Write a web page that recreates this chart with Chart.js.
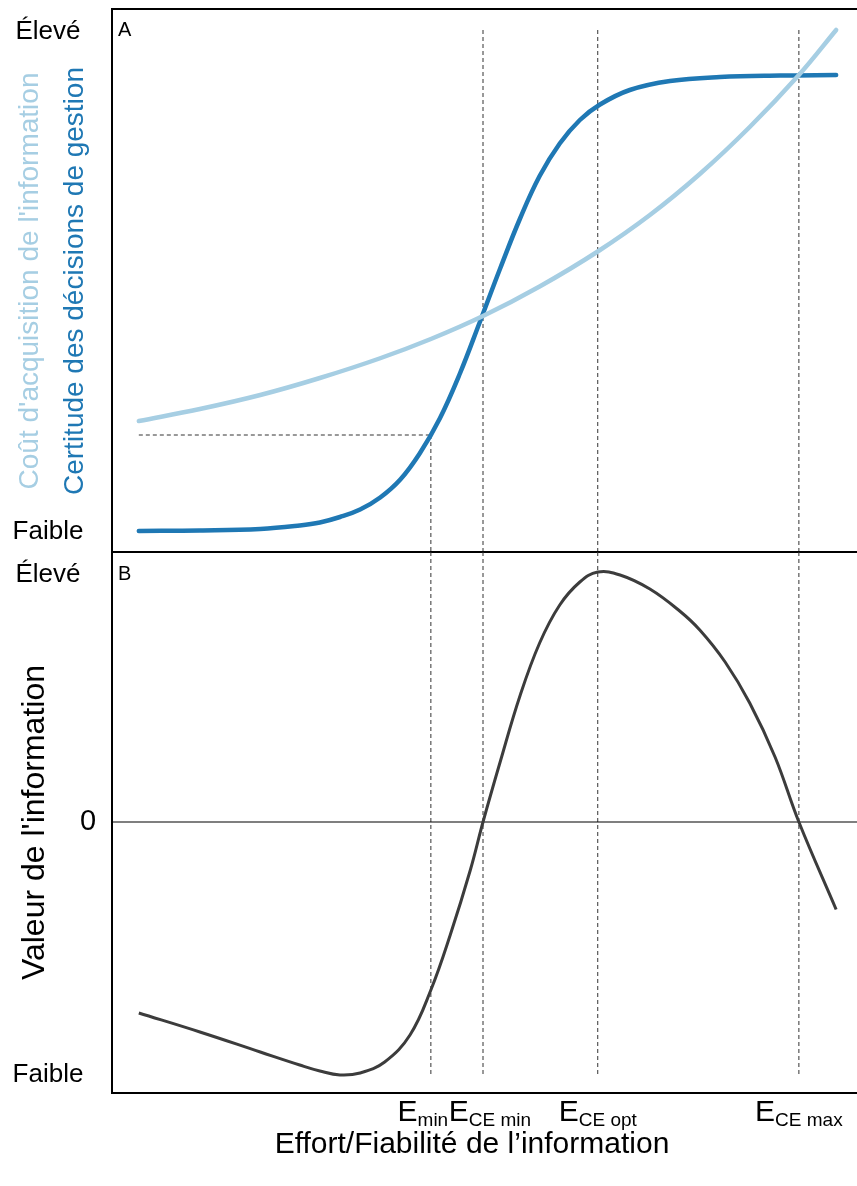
<!DOCTYPE html>
<html lang="fr">
<head>
<meta charset="utf-8">
<title>Valeur de l'information</title>
<script src="https://cdn.jsdelivr.net/npm/chart.js@4.4.0/dist/chart.umd.min.js"></script>
<style>
body { margin: 0; background: #fff; }
#wrap { position: relative; width: 857px; height: 1186px; }
canvas { position: absolute; left: 0; }
#chartA { top: 0; }
#chartB { top: 552px; }
</style>
</head>
<body>
<div id="wrap">
  <canvas id="chartA" width="857" height="553"></canvas>
  <canvas id="chartB" width="857" height="634"></canvas>
</div>
<script>
// effort axis goes 0 -> 100 in both panels

// panel A - certitude des decisions (dark blue)
var certitudeX = [3.6, 11.8, 19.9, 25.2, 27.9, 30.6, 33.3, 36, 38.7, 41.3, 44, 46.7, 49.4, 52.1, 54.8, 57.4, 60.1, 62.8, 65.5, 69.5, 74.9, 81.6, 89.7, 97.2];
var certitudeY = [0.2, 0.3, 0.6, 1.3, 1.9, 3, 4.5, 6.9, 10.5, 15.7, 22.7, 31.7, 42.1, 52.7, 62.8, 71.2, 77.7, 82.4, 85.5, 88.4, 90.2, 91, 91.3, 91.4];

// panel A - cout d'acquisition (light blue)
var coutX = [3.6, 11.8, 19.9, 27.9, 35.9, 42.8, 49.8, 57.4, 65.2, 72.2, 78.9, 85.6, 92.2, 97.2];
var coutY = [22.2, 24.6, 27.4, 30.8, 34.7, 38.6, 43.2, 49.1, 56.1, 63.4, 71.6, 81, 91.4, 100.4];

// panel B - valeur de l'information
var valeurX = [3.6, 11.8, 19.9, 25.2, 27.9, 30.6, 33.3, 36.6, 40, 42.8, 45.4, 48.1, 49.8, 52.1, 54.8, 57.4, 60.1, 62.8, 65.2, 68.2, 72.2, 76.2, 78.9, 82.3, 85.6, 89, 92.2, 97.2];
var valeurY = [-76.4, -84, -92, -97.2, -99.6, -101.2, -100.4, -96, -85.2, -67.2, -45.2, -19.2, 0, 24, 50.8, 71.6, 86.8, 96, 100, 98.8, 93.2, 84.4, 76.8, 64, 47.6, 26, 0, -35];

// the four effort thresholds
var seuils = [42.8, 49.8, 65.2, 92.2];
var seuilsSub = ['min', 'CE min', 'CE opt', 'CE max'];
var eMinNiveau = 19.4;   // certitude reached at E_min
var hautGuideA = 100.4;  // top of the dashed guides in A
var basGuideB = -101;

// tick labels
var ticksA = [100, 0];
var ticksALabels = ['Élevé', 'Faible'];
var ticksB = [99, 0, -101];
var ticksBLabels = ['Élevé', '0', 'Faible'];

var FONT = '"Liberation Sans", Arial, sans-serif';
var DARK = '#1f78b4', LIGHT = '#a6cee3';

function pts(xs, ys) {
    return xs.map(function(x, i) { return { x: x, y: ys[i] }; });
}

function guide(p) {
    return { data: p, borderColor: '#333', borderWidth: 1, borderDash: [4, 3], pointRadius: 0, fill: false };
}

function ligne(ctx, x1, y1, x2, y2) {
    ctx.save();
    ctx.strokeStyle = '#000';
    ctx.lineWidth = 2;
    ctx.beginPath();
    ctx.moveTo(x1, y1);
    ctx.lineTo(x2, y2);
    ctx.stroke();
    ctx.restore();
}

function vText(ctx, txt, x, y, font, color) {
    ctx.save();
    ctx.translate(x, y);
    ctx.rotate(-Math.PI / 2);
    ctx.font = font;
    ctx.fillStyle = color;
    ctx.textAlign = 'center';
    ctx.textBaseline = 'middle';
    ctx.fillText(txt, 0, 0);
    ctx.restore();
}

// ---------- panel A ----------
var dsA = [
    { data: pts(coutX, coutY), borderColor: LIGHT, borderWidth: 4.5, pointRadius: 0, tension: 0.4, borderCapStyle: 'round' },
    { data: pts(certitudeX, certitudeY), borderColor: DARK, borderWidth: 4.5, pointRadius: 0, tension: 0.4, borderCapStyle: 'round' },
    guide([{ x: certitudeX[0], y: eMinNiveau }, { x: seuils[0], y: eMinNiveau }]),
    guide([{ x: seuils[0], y: eMinNiveau }, { x: seuils[0], y: -4.2 }])
];
for (var i = 1; i < seuils.length; i++) {
    dsA.push(guide([{ x: seuils[i], y: hautGuideA }, { x: seuils[i], y: -4.2 }]));
}

new Chart(document.getElementById('chartA'), {
    type: 'line',
    data: { datasets: dsA },
    options: {
        responsive: false,
        animation: false,
        layout: { padding: { left: 112, top: 9, right: 0, bottom: 0 } },
        plugins: { legend: { display: false }, tooltip: { enabled: false } },
        scales: {
            x: { type: 'linear', min: 0, max: 100, display: false },
            y: { min: -4.2, max: 104.6, display: false }
        }
    },
    plugins: [{
        id: 'decoA',
        afterDraw: function(chart) {
            var ctx = chart.ctx, a = chart.chartArea, y = chart.scales.y;
            ligne(ctx, a.left, a.bottom, a.left, a.top);
            ligne(ctx, a.left - 1, a.top, a.right, a.top);
            ligne(ctx, a.left, 552, a.right, 552);   // divider with panel B
            ctx.save();
            ctx.fillStyle = '#000';
            ctx.textAlign = 'center';
            ctx.textBaseline = 'middle';
            ctx.font = '26px ' + FONT;
            for (var i = 0; i < ticksA.length; i++) {
                ctx.fillText(ticksALabels[i], 48, y.getPixelForValue(ticksA[i]));
            }
            ctx.textAlign = 'left';
            ctx.textBaseline = 'top';
            ctx.font = '20px ' + FONT;
            ctx.fillText('A', a.left + 6, a.top + 11);
            ctx.restore();
            var mid = (a.top + a.bottom) / 2;
            vText(ctx, "Coût d'acquisition de l'information", 30, mid, '28px ' + FONT, LIGHT);
            vText(ctx, 'Certitude des décisions de gestion', 75, mid, '28px ' + FONT, DARK);
        }
    }]
});

// ---------- panel B ----------
var dsB = [
    { data: pts(valeurX, valeurY), borderColor: '#3c3c3c', borderWidth: 3, pointRadius: 0, tension: 0.4 },
    { data: [{ x: 0, y: 0 }, { x: 100, y: 0 }], borderColor: '#000', borderWidth: 1.2, pointRadius: 0 }
];
for (var j = 0; j < seuils.length; j++) {
    dsB.push(guide([{ x: seuils[j], y: 108 }, { x: seuils[j], y: basGuideB }]));
}

new Chart(document.getElementById('chartB'), {
    type: 'line',
    data: { datasets: dsB },
    options: {
        responsive: false,
        animation: false,
        layout: { padding: { left: 112, top: 0, right: 0, bottom: 93 } },
        plugins: { legend: { display: false }, tooltip: { enabled: false } },
        scales: {
            x: { type: 'linear', min: 0, max: 100, display: false },
            y: { min: -108.4, max: 108, display: false }
        }
    },
    plugins: [{
        id: 'decoB',
        afterDraw: function(chart) {
            var ctx = chart.ctx, a = chart.chartArea, x = chart.scales.x, y = chart.scales.y;
            ligne(ctx, a.left, a.top, a.left, a.bottom + 1);
            ligne(ctx, a.left, a.bottom, a.right, a.bottom);
            ctx.save();
            ctx.fillStyle = '#000';
            ctx.textAlign = 'center';
            ctx.textBaseline = 'middle';
            for (var i = 0; i < ticksB.length; i++) {
                var lab = ticksBLabels[i];
                ctx.font = (lab == '0' ? '29px ' : '26px ') + FONT;
                ctx.fillText(lab, lab == '0' ? 88 : 48, y.getPixelForValue(ticksB[i]));
            }
            ctx.textAlign = 'left';
            ctx.textBaseline = 'top';
            ctx.font = '20px ' + FONT;
            ctx.fillText('B', a.left + 6, a.top + 12);

            // E labels under the dashed lines
            var shift = [-8, 7, 0, 0];
            ctx.textBaseline = 'alphabetic';
            for (var k = 0; k < seuils.length; k++) {
                ctx.font = '30px ' + FONT;
                var wE = ctx.measureText('E').width;
                ctx.font = '19px ' + FONT;
                var wS = ctx.measureText(seuilsSub[k]).width;
                var x0 = x.getPixelForValue(seuils[k]) - (wE + wS) / 2 + shift[k];
                ctx.font = '30px ' + FONT;
                ctx.fillText('E', x0, a.bottom + 28);
                ctx.font = '19px ' + FONT;
                ctx.fillText(seuilsSub[k], x0 + wE, a.bottom + 33);
            }

            ctx.textAlign = 'center';
            ctx.textBaseline = 'middle';
            ctx.font = '30px ' + FONT;
            ctx.fillText('Effort/Fiabilité de l’information', 472, a.bottom + 52);
            ctx.restore();
            vText(ctx, "Valeur de l'information", 35, (a.top + a.bottom) / 2, '32px ' + FONT, '#000');
        }
    }]
});
</script>
</body>
</html>
